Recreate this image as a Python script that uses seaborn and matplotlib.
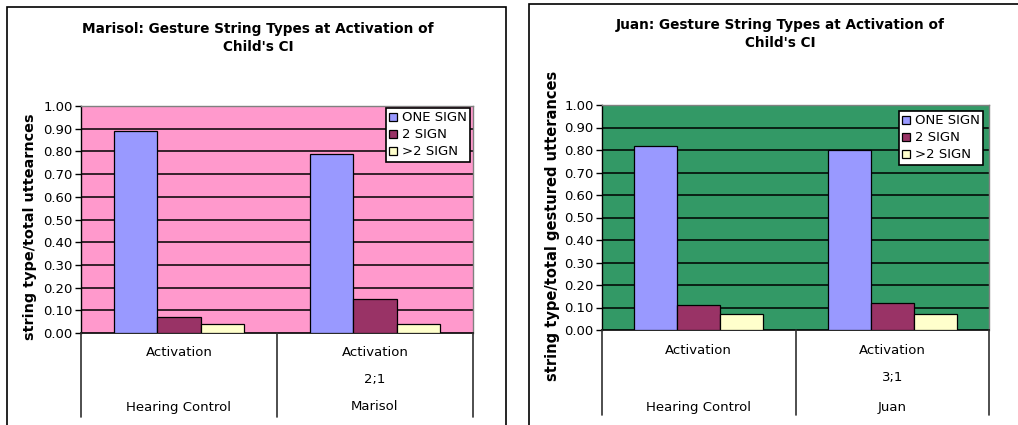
import matplotlib
matplotlib.use("Agg")
import matplotlib.pyplot as plt
from matplotlib.patches import Rectangle
from matplotlib.lines import Line2D
import seaborn as sns
import pandas as pd

sns.set_theme(style="white")
plt.rcParams["font.family"] = ["DejaVu Sans"]
plt.rcParams["text.color"] = "black"
plt.rcParams["axes.labelcolor"] = "black"
plt.rcParams["xtick.color"] = "black"
plt.rcParams["ytick.color"] = "black"

# Data
series = ["ONE SIGN", "2 SIGN", ">2 SIGN"]
marisol_groups = ["Hearing Control", "Marisol"]
marisol_ages = ["", "2;1"]
marisol_one = [0.89, 0.79]
marisol_two = [0.07, 0.15]
marisol_more = [0.04, 0.04]

juan_groups = ["Hearing Control", "Juan"]
juan_ages = ["", "3;1"]
juan_one = [0.82, 0.80]
juan_two = [0.11, 0.12]
juan_more = [0.07, 0.07]

yticks = [0.0, 0.1, 0.2, 0.3, 0.4, 0.5, 0.6, 0.7, 0.8, 0.9, 1.0]

palette = {"ONE SIGN": "#9999FF", "2 SIGN": "#993366", ">2 SIGN": "#FFFFCC"}


def long_frame(groups, one, two, more):
    rows = []
    for g, a, b, c in zip(groups, one, two, more):
        rows.append({"group": g, "type": "ONE SIGN", "value": a})
        rows.append({"group": g, "type": "2 SIGN", "value": b})
        rows.append({"group": g, "type": ">2 SIGN", "value": c})
    return pd.DataFrame(rows)


W, H = 1018, 425
fig = plt.figure(figsize=(W / 100, H / 100), dpi=100)


def px(x0, y0, x1, y1):
    return [x0 / W, 1 - y1 / H, (x1 - x0) / W, (y1 - y0) / H]


def chart(rect, frame, bg, title, title_xy, ylabel, ylabel_xy, ylabel_size,
          groups, ages, one, two, more, table_bottom, text_rows, legend_box):
    # outer chart frame
    fig.patches.append(Rectangle((frame[0] / W, -0.1), (frame[1] - frame[0]) / W,
                                 1 - frame[2] / H + 0.1, transform=fig.transFigure,
                                 fill=False, edgecolor="black", linewidth=1.2))
    ax = fig.add_axes(px(*rect))
    df = long_frame(groups, one, two, more)
    sns.barplot(data=df, x="group", y="value", hue="type", order=groups,
                hue_order=series, palette=palette, width=0.667,
                edgecolor="black", linewidth=0.9, saturation=1, ax=ax,
                errorbar=None, zorder=3)
    ax.set_facecolor(bg)
    ax.set_ylim(0, 1)
    ax.set_xlim(-0.5, 1.5)
    ax.set_yticks(yticks)
    ax.set_yticklabels([f"{t:.2f}" for t in yticks], fontsize=9.5)
    for t in yticks[1:-1]:
        ax.axhline(t, color="black", linewidth=1.1, zorder=1)
    ax.tick_params(axis="y", direction="out", length=4, width=1, color="black",
                   left=True, pad=2)
    ax.tick_params(axis="x", bottom=False, labelbottom=False)
    ax.set_xlabel("")
    ax.set_ylabel("")
    for s in ["top", "right"]:
        ax.spines[s].set_color("#808080")
        ax.spines[s].set_linewidth(1)
    ax.spines["left"].set_color("black")
    ax.spines["bottom"].set_color("black")
    ax.spines["left"].set_linewidth(1)
    ax.spines["bottom"].set_linewidth(1.2)

    # category table below the axis
    x0, x1 = rect[0], rect[2]
    y0 = rect[3]
    xm = (x0 + x1) / 2
    for xx in (x0, xm, x1):
        fig.add_artist(Line2D([xx / W, xx / W], [1 - y0 / H, 1 - table_bottom / H],
                              color="#303030", linewidth=1.2,
                              transform=fig.transFigure))
    centers = [(x0 + xm) / 2, (xm + x1) / 2]
    for cx, g, a in zip(centers, groups, ages):
        fig.text(cx / W, 1 - text_rows[0] / H, "Activation", ha="center",
                 va="center", fontsize=9.5)
        if a:
            fig.text(cx / W, 1 - text_rows[1] / H, a, ha="center", va="center",
                     fontsize=9.5)
        fig.text(cx / W, 1 - text_rows[2] / H, g, ha="center", va="center",
                 fontsize=9.5)

    fig.text(title_xy[0] / W, 1 - title_xy[1] / H, title, ha="center", va="center",
             fontsize=9.8, fontweight="bold", linespacing=1.35)
    fig.text(ylabel_xy[0] / W, 1 - ylabel_xy[1] / H, ylabel, ha="center",
             va="center", rotation=90, fontsize=ylabel_size, fontweight="bold")

    # legend
    handles, labels = ax.get_legend_handles_labels()
    lx0, ly0, lx1, ly1 = legend_box
    leg = ax.legend(handles, labels, loc="upper right",
                    bbox_to_anchor=((lx1 - rect[0]) / (rect[2] - rect[0]),
                                    1 - (ly0 - rect[1]) / (rect[3] - rect[1])),
                    fontsize=9.5, frameon=True, fancybox=False, framealpha=1,
                    edgecolor="black", handlelength=0.55, handleheight=0.55,
                    handletextpad=0.4, borderpad=0.25, labelspacing=0.3,
                    borderaxespad=0)
    leg.get_frame().set_linewidth(1.2)
    leg.set_zorder(5)
    return ax


chart((81, 106, 473, 333), (7, 506, 7), "#FF99CC",
      "Marisol: Gesture String Types at Activation of\nChild's CI", (258, 38),
      "string type/total uttearnces", (30, 227), 10.4,
      marisol_groups, marisol_ages, marisol_one, marisol_two, marisol_more,
      417, (353, 380, 407), (384, 108, 470, 168))

chart((602, 105, 989, 330), (529, 1030, 4), "#339966",
      "Juan: Gesture String Types at Activation of\nChild's CI", (780, 34),
      "string type/total gestured utterances", (552, 226), 10.5,
      juan_groups, juan_ages, juan_one, juan_two, juan_more,
      415, (350, 378, 407), (897, 111, 983, 174))

fig.savefig("out.png", dpi=100, facecolor="white")
